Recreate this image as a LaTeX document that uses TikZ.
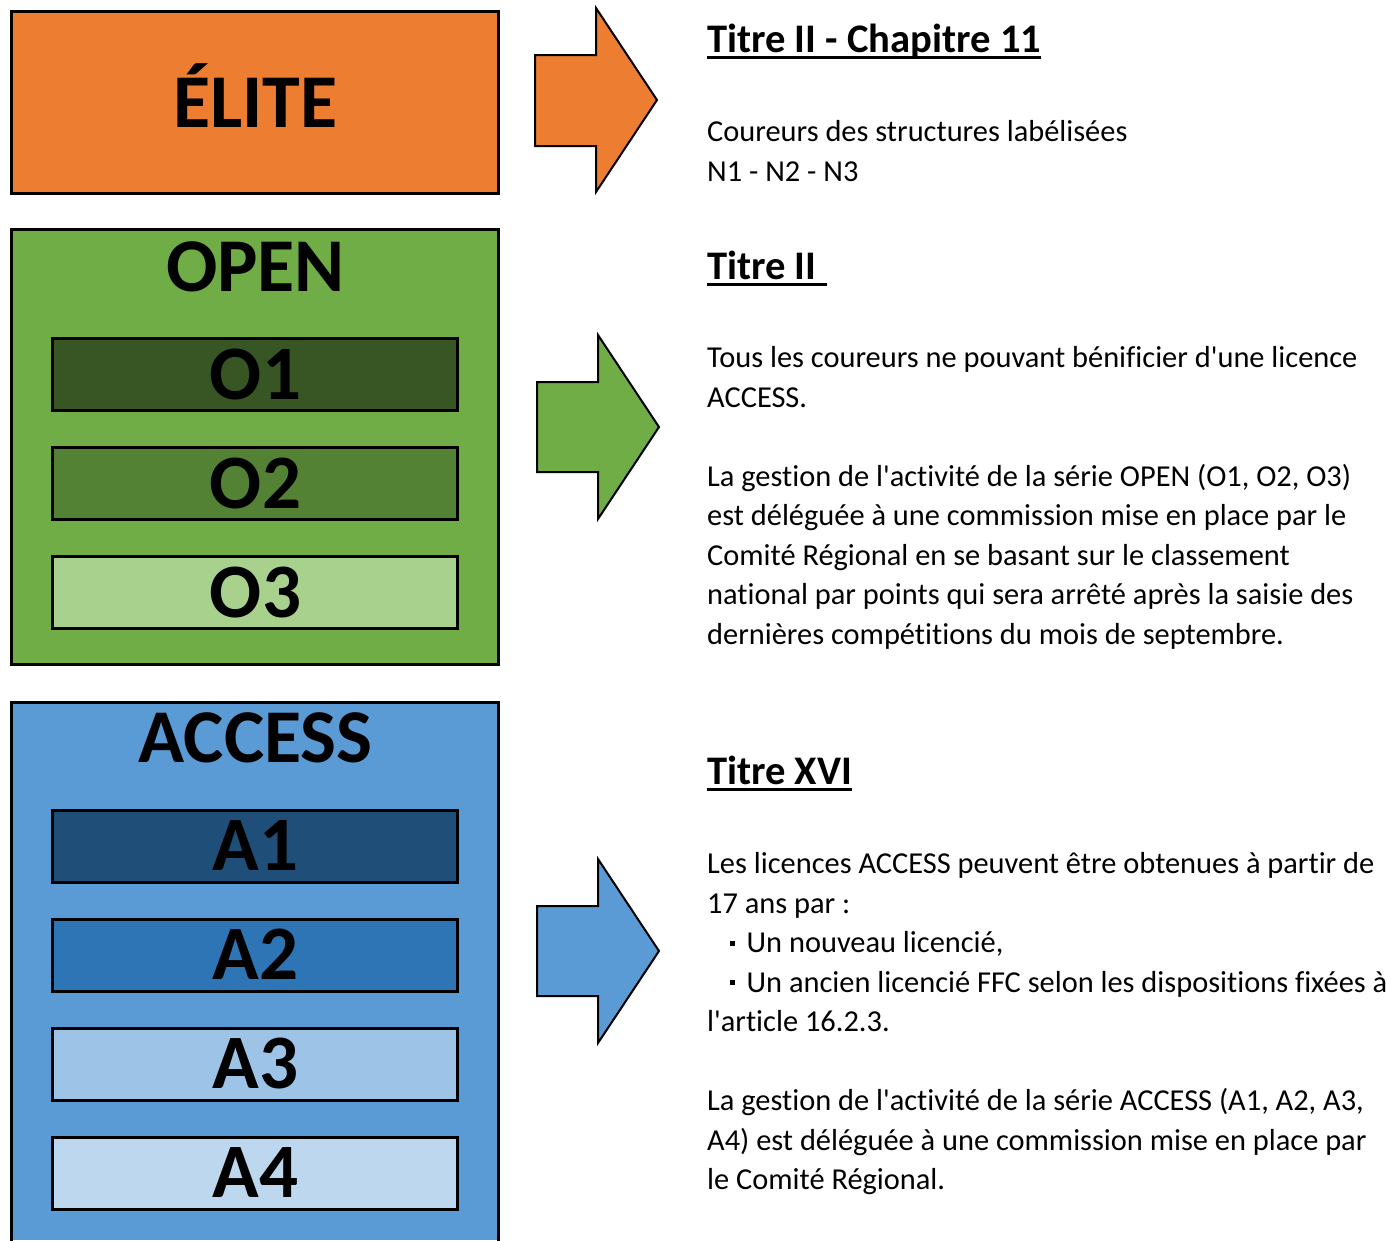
\documentclass[tikz,border=0pt]{standalone}
\usepackage{fontspec}
\setmainfont{Carlito}[Ligatures={TeXOff,NoCommon}]
\definecolor{elite}{HTML}{ED7D31}
\definecolor{open}{HTML}{70AD47}
\definecolor{oone}{HTML}{375623}
\definecolor{otwo}{HTML}{548235}
\definecolor{othree}{HTML}{A9D18E}
\definecolor{access}{HTML}{5B9BD5}
\definecolor{aone}{HTML}{1F4E79}
\definecolor{atwo}{HTML}{2E75B6}
\definecolor{athree}{HTML}{9DC3E6}
\definecolor{afour}{HTML}{BDD7EE}
\tikzset{
  bigbox/.style={draw=black, line width=3bp},
  sublevel/.style={draw=black, line width=3bp},
  biglabel/.style={anchor=base, inner sep=0pt, font=\fontsize{76bp}{84bp}\selectfont\bfseries},
  sublabel/.style={anchor=base, inner sep=0pt, font=\fontsize{77bp}{84bp}\selectfont\bfseries},
  titlelabel/.style={anchor=base west, inner sep=0pt, font=\fontsize{40.6bp}{44bp}\selectfont\bfseries},
  bodyline/.style={anchor=base west, inner sep=0pt, font=\fontsize{30.4bp}{36bp}\selectfont},
  arrowshape/.style={draw=black, line width=2bp, line join=miter},
  uline/.style={line width=2.5bp}
}
\newcommand{\sqbullet}{\rule[7bp]{5bp}{5bp}}
\begin{document}
\begin{tikzpicture}[x=1bp, y=-1bp]
\useasboundingbox (0,0) rectangle (1387,1240);
\fill[white] (0,0) rectangle (1387,1240);

% ELITE
\draw[bigbox, fill=elite] (11,11) rectangle (498,193);
\node[biglabel] (elite) at (255.5,127) {ÉLITE};

% OPEN
\draw[bigbox, fill=open] (11,229.5) rectangle (498,664.5);
\node[biglabel] (open) at (255.5,291) {OPEN};
\draw[sublevel, fill=oone] (52,338.5) rectangle (457,410.5);
\node[sublabel] (o1) at (255.5,399) {O1};
\draw[sublevel, fill=otwo] (52,447.5) rectangle (457,519.5);
\node[sublabel] (o2) at (255.5,508) {O2};
\draw[sublevel, fill=othree] (52,556.5) rectangle (457,628.5);
\node[sublabel] (o3) at (255.5,617) {O3};

% ACCESS
\fill[access] (11,702) rectangle (498,1240);
\draw[bigbox] (11,1242) -- (11,702) -- (498,702) -- (498,1242);
\node[biglabel] (access) at (255.5,762) {ACCESS};
\draw[sublevel, fill=aone] (52,810.5) rectangle (457,882.5);
\node[sublabel] (a1) at (255.5,870) {A1};
\draw[sublevel, fill=atwo] (52,919) rectangle (457,991);
\node[sublabel] (a2) at (255.5,979) {A2};
\draw[sublevel, fill=athree] (52,1028) rectangle (457,1100);
\node[sublabel] (a3) at (255.5,1088) {A3};
\draw[sublevel, fill=afour] (52,1137) rectangle (457,1209);
\node[sublabel] (a4) at (255.5,1197) {A4};

% Arrows
\draw[arrowshape, fill=elite] (535,55) -- (596,55) -- (596,8) -- (657,100) -- (596,192) -- (596,146) -- (535,146) -- cycle;
\draw[arrowshape, fill=open] (537,382) -- (598,382) -- (598,335) -- (659,427) -- (598,519) -- (598,472) -- (537,472) -- cycle;
\draw[arrowshape, fill=access] (537,906) -- (598,906) -- (598,859) -- (659,951) -- (598,1043) -- (598,996) -- (537,996) -- cycle;

% Text block 1
\node[titlelabel] (t1) at (707,52.5) {Titre II - Chapitre 11};
\draw[uline] ([yshift=-5bp]t1.base west) -- ([yshift=-5bp]t1.base east);
\node[bodyline] (b1a) at (707,141.5) {Coureurs des structures labélisées};
\node[bodyline] (b1b) at (707,181) {N1 - N2 - N3};

% Text block 2
\node[titlelabel] (t2) at (707,279.5) {Titre II};
\draw[uline] ([yshift=-5bp]t2.base west) -- ([yshift=-5bp,xshift=10bp]t2.base east);
\node[bodyline] (b2a) at (707,367.5) {Tous les coureurs ne pouvant bénificier d'une licence};
\node[bodyline] (b2b) at (707,407) {ACCESS.};
\node[bodyline] (b2c) at (707,486) {La gestion de l'activité de la série OPEN (O1, O2, O3)};
\node[bodyline] (b2d) at (707,525.5) {est déléguée à une commission mise en place par le};
\node[bodyline] (b2e) at (707,565) {Comité Régional en se basant sur le classement};
\node[bodyline] (b2f) at (707,604.5) {national par points qui sera arrêté après la saisie des};
\node[bodyline] (b2g) at (707,644) {dernières compétitions du mois de septembre.};

% Text block 3
\node[titlelabel] (t3) at (707,784.5) {Titre XVI};
\draw[uline] ([yshift=-5bp]t3.base west) -- ([yshift=-5bp]t3.base east);
\node[bodyline] (b3a) at (707,873.5) {Les licences ACCESS peuvent être obtenues à partir de};
\node[bodyline] (b3b) at (707,913) {17 ans par :};
\node[bodyline] (b3c) at (707,952.5) {\hspace*{23bp}\sqbullet\hspace{11.5bp}Un nouveau licencié,};
\node[bodyline] (b3d) at (707,992) {\hspace*{23bp}\sqbullet\hspace{11.5bp}Un ancien licencié FFC selon les dispositions fixées à};
\node[bodyline] (b3e) at (707,1031.5) {l'article 16.2.3.};
\node[bodyline] (b3f) at (707,1110.5) {La gestion de l'activité de la série ACCESS (A1, A2, A3,};
\node[bodyline] (b3g) at (707,1150) {A4) est déléguée à une commission mise en place par};
\node[bodyline] (b3h) at (707,1189.5) {le Comité Régional.};
\end{tikzpicture}
\end{document}
